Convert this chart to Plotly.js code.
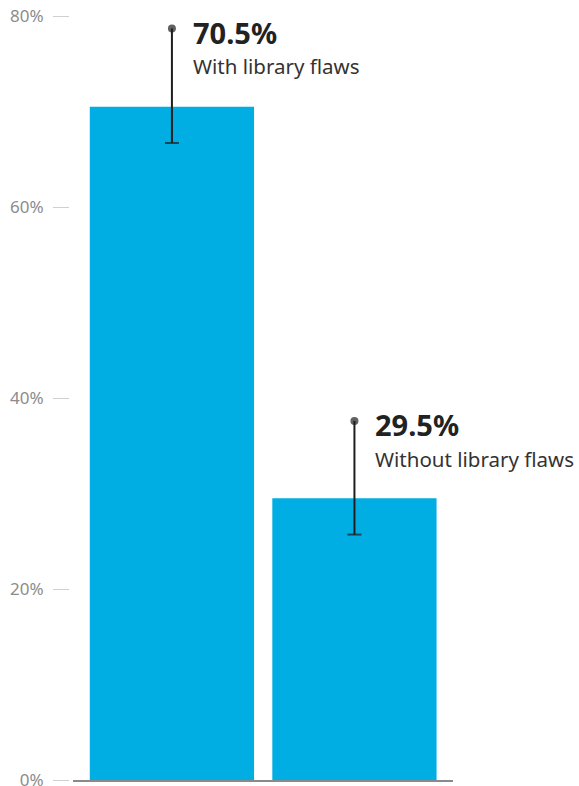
<!DOCTYPE html>
<html>
<head>
<meta charset="utf-8">
<script src="https://cdn.plot.ly/plotly-3.0.1.min.js"></script>
<style>html,body{margin:0;padding:0;background:#fff;}#chart{width:579px;height:786px;}</style>
</head>
<body>
<div id="chart"></div>
<script>
const categories = ["With library flaws", "Without library flaws"];
const values = [70.5, 29.5];
const upperEnds = [78.7, 37.6];
const lowerEnds = [66.7, 25.7];
const tickValues = [0, 20, 40, 60, 80];
const tickLabels = ["0%", "20%", "40%", "60%", "80%"];

const FONT = "'Noto Sans', 'Open Sans', sans-serif";
const xs = categories.map((c, i) => i);

const traces = [{
  type: 'bar',
  x: xs,
  y: values,
  width: 0.9,
  marker: {color: '#00AEE3'},
  hoverinfo: 'skip'
}];

xs.forEach((x, i) => {
  traces.push({
    type: 'scatter',
    mode: 'lines+markers',
    x: [x, x],
    y: [upperEnds[i], lowerEnds[i]],
    line: {color: '#1e1e1e', width: 2},
    marker: {
      symbol: ['circle', 'line-ew'],
      size: [8, 10],
      color: '#1e1e1e',
      line: {color: '#1e1e1e', width: [0, 2]}
    },
    hoverinfo: 'skip',
    cliponaxis: false
  });
});

const annotations = [];
xs.forEach((x, i) => {
  annotations.push({
    x: x, y: upperEnds[i], xref: 'x', yref: 'y',
    text: '<b>' + values[i].toFixed(1) + '%</b>',
    showarrow: false, xanchor: 'left', yanchor: 'middle',
    xshift: 19, yshift: -4,
    font: {family: FONT, size: 29, color: '#222222'}
  });
  annotations.push({
    x: x, y: upperEnds[i], xref: 'x', yref: 'y',
    text: categories[i],
    showarrow: false, xanchor: 'left', yanchor: 'middle',
    xshift: 19, yshift: -38,
    font: {family: FONT, size: 20.5, color: '#333333'}
  });
});

const layout = {
  width: 579, height: 786,
  margin: {l: 69, r: 126, t: 16, b: 6, pad: 0},
  paper_bgcolor: '#ffffff', plot_bgcolor: '#ffffff',
  showlegend: false,
  xaxis: {
    domain: [4/384, 1],
    range: [-0.542, 1.54],
    showgrid: false, zeroline: false,
    showticklabels: false, ticks: '',
    showline: true, linecolor: '#8a8a8a', linewidth: 2,
    fixedrange: true
  },
  yaxis: {
    range: [0, 80],
    anchor: 'free', position: 0,
    tickvals: tickValues, ticktext: tickLabels,
    ticks: 'outside', ticklen: 16, tickcolor: '#d0d0d0', tickwidth: 1,
    ticklabelstandoff: 6,
    ticklabeloverflow: 'allow',
    showgrid: false, zeroline: false, showline: false,
    tickfont: {family: FONT, size: 17, color: '#8c8c8c'},
    fixedrange: true
  },
  annotations: annotations,
  font: {family: FONT}
};

Plotly.newPlot('chart', traces, layout, {displayModeBar: false, staticPlot: true});
</script>
</body>
</html>
